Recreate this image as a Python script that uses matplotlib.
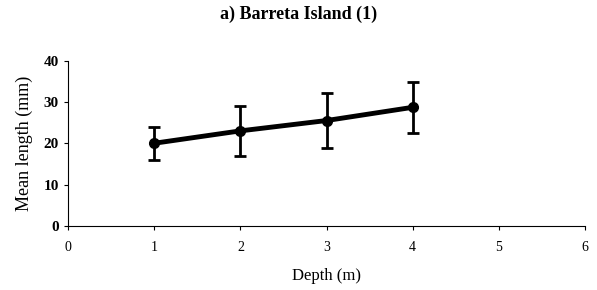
import matplotlib.pyplot as plt

# data
depth = [1, 2, 3, 4]
mean_length = [20.0, 23.0, 25.5, 28.7]
err = [4.0, 6.0, 6.7, 6.2]

plt.rcParams['font.family'] = ['Liberation Serif', 'DejaVu Serif']

fig = plt.figure(figsize=(5.97, 2.90), dpi=100)
ax = fig.add_axes([0.114, 0.221, 0.866, 0.570])

ax.errorbar(depth, mean_length, yerr=err, color='black', linewidth=3.5,
            marker='o', markersize=7, elinewidth=2, capsize=4.5, capthick=2)

ax.set_xlim(0, 6)
ax.set_ylim(0, 40)
ax.set_xticks(range(0, 7))
ax.set_yticks(range(0, 41, 10))
ax.tick_params(axis='x', labelsize=10, length=3, direction='out', pad=8)
ax.tick_params(axis='y', labelsize=11, length=3, direction='out')
for lab in ax.get_yticklabels():
    lab.set_fontweight('bold')

for s in ['top', 'right']:
    ax.spines[s].set_visible(False)
ax.spines['left'].set_linewidth(0.8)
ax.spines['bottom'].set_linewidth(0.8)

ax.set_xlabel('Depth (m)', fontsize=12, labelpad=10)
ax.set_ylabel('Mean length (mm)', fontsize=13, labelpad=8)
fig.suptitle('a) Barreta Island (1)', fontsize=13, fontweight='bold', y=0.98)

fig.savefig('out.png', dpi=100)
